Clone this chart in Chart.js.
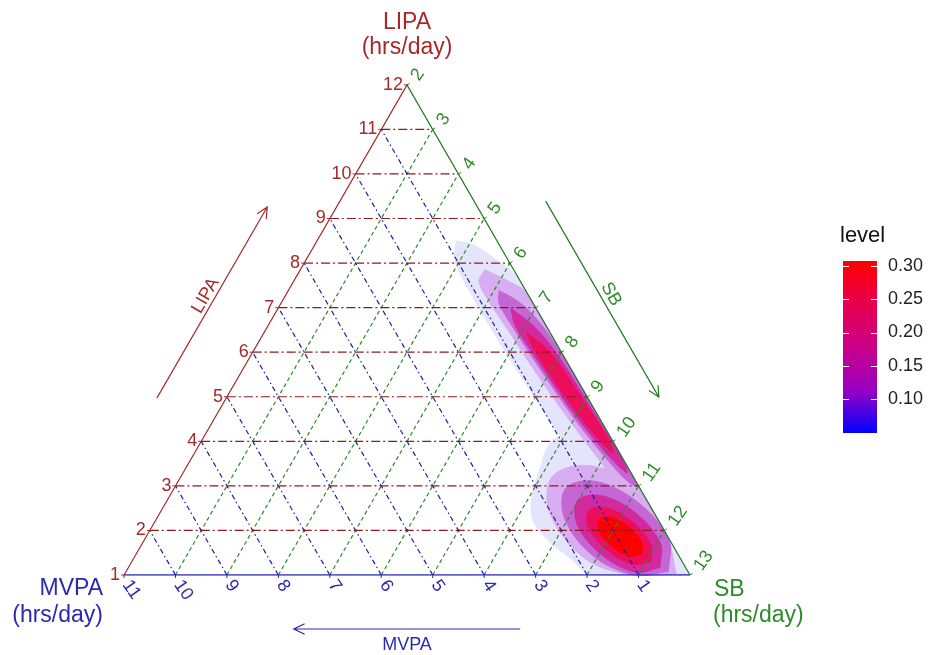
<!DOCTYPE html>
<html>
<head>
<meta charset="utf-8">
<script src="https://cdn.jsdelivr.net/npm/chart.js@4.4.1/dist/chart.umd.min.js"></script>
<style>
  html, body { margin: 0; padding: 0; background: #fff; }
  canvas { display: block; }
</style>
</head>
<body>
<canvas id="tern" width="931" height="655"></canvas>
<script>
// hours per day, LIPA + SB + MVPA = 14 everywhere in this window
var TOTAL = 14;
var lipaTicks = [1, 2, 3, 4, 5, 6, 7, 8, 9, 10, 11, 12];
var sbTicks = [2, 3, 4, 5, 6, 7, 8, 9, 10, 11, 12, 13];
var mvpaTicks = [1, 2, 3, 4, 5, 6, 7, 8, 9, 10, 11];
var lipaGrid = [2, 3, 4, 5, 6, 7, 8, 9, 10, 11];
var sbGrid = [3, 4, 5, 6, 7, 8, 9, 10, 11, 12];
var mvpaGrid = [1, 2, 3, 4, 5, 6, 7, 8, 9, 10];

// colour bar
var levelTicks = [0.10, 0.15, 0.20, 0.25, 0.30];
var levelRange = [0.049, 0.3075];
var bandColors = ['#E4E4FC', '#D8AEF0', '#C566D5', '#D22A9E', '#EC0E5A', '#FF0000'];

// density contours, vertices as [LIPA, MVPA] (SB is the remainder)
// lower cluster (high SB, low LIPA)
var lowBand1 = [[4.20, 0.45], [4.02, 1.16], [3.35, 1.75], [2.68, 2.24], [2.23, 2.44], [1.78, 2.37], [1.38, 2.14], [1.0, 1.90], [1.0, 0.0], [4.2, 0.0]];
var lowBand2 = [[1.02, 0.26], [1.0, 1.12], [1.36, 1.85], [2.39, 2.03], [3.22, 1.56], [3.45, 0.70], [2.93, 0.0], [1.90, 0.0]];
var lowBand3 = [[1.08, 0.38], [1.0, 1.06], [1.40, 1.65], [2.23, 1.81], [2.94, 1.45], [3.10, 0.78], [2.62, 0.19], [1.78, 0.02]];
var lowBand4 = [[1.17, 0.50], [1.06, 1.02], [1.45, 1.49], [2.11, 1.63], [2.67, 1.35], [2.78, 0.83], [2.39, 0.36], [1.72, 0.22]];
var lowBand5 = [[1.31, 0.60], [1.24, 0.98], [1.54, 1.32], [2.04, 1.44], [2.44, 1.25], [2.51, 0.88], [2.21, 0.53], [1.71, 0.42]];
var lowBand6 = [[1.47, 0.70], [1.42, 0.96], [1.63, 1.19], [1.97, 1.27], [2.25, 1.14], [2.29, 0.88], [2.08, 0.65], [1.73, 0.57]];
// upper cluster (along the SB edge)
var highBand1 = [[8.50, 0.78], [8.3, 0.92], [8.0, 1.06], [7.0, 1.10], [6.0, 1.08], [5.0, 1.03], [4.0, 0.95], [3.2, 0.92], [3.0, 0.5], [3.0, 0.0], [7.6, 0.0], [8.1, 0.25], [8.4, 0.50]];
var highBand2 = [[7.85, 0.56], [7.6, 0.80], [7.2, 0.84], [6.5, 0.79], [5.5, 0.72], [4.5, 0.61], [3.7, 0.49], [3.1, 0.38], [2.85, 0.15], [2.9, 0.0], [7.3, 0.0], [7.6, 0.24]];
var highBand3 = [[7.38, 0.52], [7.1, 0.66], [6.5, 0.66], [5.5, 0.59], [4.5, 0.49], [3.7, 0.34], [3.1, 0.16], [3.0, 0.02], [3.6, 0.0], [6.2, 0.03], [6.9, 0.15], [7.2, 0.32]];
var highBand4 = [[6.98, 0.49], [6.6, 0.60], [6.0, 0.57], [5.0, 0.49], [4.2, 0.37], [3.5, 0.19], [3.3, 0.07], [3.7, 0.02], [5.0, 0.06], [6.0, 0.11], [6.6, 0.25]];
var highBand5 = [[6.45, 0.46], [6.0, 0.50], [5.0, 0.42], [4.3, 0.31], [3.75, 0.14], [4.0, 0.06], [5.0, 0.12], [6.0, 0.22]];

var contours = [
  { band: 0, pts: lowBand1 }, { band: 0, pts: highBand1 },
  { band: 1, pts: lowBand2 }, { band: 1, pts: highBand2 },
  { band: 2, pts: lowBand3 }, { band: 2, pts: highBand3 },
  { band: 3, pts: lowBand4 }, { band: 3, pts: highBand4 },
  { band: 4, pts: lowBand5 }, { band: 4, pts: highBand5 },
  { band: 5, pts: lowBand6 }
];

var RED = '#A52A2A', GREEN = '#2F8A2A', BLUE = '#2A2AB0';
var FONT = '"Liberation Sans", Arial, sans-serif';

// ternary -> cartesian (side = 1)
function tern(lipa, mvpa) {
  var l = (lipa - 1) / 11;
  var s = (TOTAL - lipa - mvpa - 2) / 11;
  return { x: s + l / 2, y: l * Math.sqrt(3) / 2 };
}

var datasets = [];

contours.forEach(function (c) {
  var pts = c.pts.map(function (p) { return tern(p[0], p[1]); });
  pts.push(pts[0]);
  datasets.push({
    data: pts,
    showLine: true,
    fill: 'shape',
    backgroundColor: bandColors[c.band],
    borderColor: bandColors[c.band],
    borderWidth: 1,
    tension: 0.35,
    pointRadius: 0,
    order: 100 - c.band * 10
  });
});

function gridLine(a, b, color, dash) {
  datasets.push({
    data: [a, b],
    showLine: true,
    fill: false,
    borderColor: color,
    borderWidth: 1.2,
    borderDash: dash,
    pointRadius: 0,
    order: 2
  });
}

lipaGrid.forEach(function (L) { gridLine(tern(L, 12 - L), tern(L, 0), '#8E1B1B', [9, 3, 2, 3]); });
mvpaGrid.forEach(function (M) { gridLine(tern(1, M), tern(12 - M, M), '#1E1EA8', [5, 3, 1.5, 3]); });
sbGrid.forEach(function (S) { gridLine(tern(1, 13 - S), tern(14 - S, 0), '#2A8A2A', [4, 3]); });

// triangle edges
function edge(a, b, color) {
  datasets.push({ data: [a, b], showLine: true, fill: false, borderColor: color, borderWidth: 1.3, pointRadius: 0, order: 0 });
}
edge(tern(1, 11), tern(12, 0), RED);
edge(tern(12, 0), tern(1, 0), '#217A21');
edge(tern(1, 0), tern(1, 11), '#2B2BC0');

function px(chart, lipa, mvpa) {
  var p = tern(lipa, mvpa);
  return { x: chart.scales.x.getPixelForValue(p.x), y: chart.scales.y.getPixelForValue(p.y) };
}

var triangleClip = {
  id: 'triangleClip',
  beforeDatasetsDraw: function (chart) {
    var ctx = chart.ctx;
    var T = px(chart, 12, 0), A = px(chart, 1, 11), B = px(chart, 1, 0);
    ctx.save();
    ctx.beginPath();
    ctx.moveTo(T.x, T.y - 1.5);
    ctx.lineTo(B.x + 1.3, B.y + 0.8);
    ctx.lineTo(A.x - 1.3, A.y + 0.8);
    ctx.closePath();
    ctx.clip();
  },
  afterDatasetsDraw: function (chart) {
    chart.ctx.restore();
  }
};

function label(ctx, s, x, y, color, size, align, angle) {
  ctx.save();
  ctx.translate(x, y);
  ctx.rotate((angle || 0) * Math.PI / 180);
  ctx.fillStyle = color;
  ctx.font = size + 'px ' + FONT;
  ctx.textAlign = align || 'center';
  ctx.textBaseline = 'middle';
  ctx.fillText(s, 0, 0);
  ctx.restore();
}

function arrow(ctx, a, b, color) {
  var ang = Math.atan2(b.y - a.y, b.x - a.x);
  ctx.save();
  ctx.strokeStyle = color;
  ctx.lineWidth = 1.2;
  ctx.beginPath();
  ctx.moveTo(a.x, a.y);
  ctx.lineTo(b.x, b.y);
  ctx.moveTo(b.x - 12 * Math.cos(ang - 0.45), b.y - 12 * Math.sin(ang - 0.45));
  ctx.lineTo(b.x, b.y);
  ctx.lineTo(b.x - 12 * Math.cos(ang + 0.45), b.y - 12 * Math.sin(ang + 0.45));
  ctx.stroke();
  ctx.restore();
}

var ternaryDecor = {
  id: 'ternaryDecor',
  afterDraw: function (chart) {
    var ctx = chart.ctx;
    var T = px(chart, 12, 0), A = px(chart, 1, 11), B = px(chart, 1, 0);

    // tick marks + labels
    ctx.save();
    ctx.lineWidth = 1;
    lipaTicks.forEach(function (L) {
      var p = px(chart, L, 12 - L);
      ctx.strokeStyle = RED;
      ctx.beginPath(); ctx.moveTo(p.x - 3, p.y); ctx.lineTo(p.x, p.y); ctx.stroke();
      label(ctx, String(L), p.x - 4, p.y, RED, 18, 'right', 0);
    });
    sbTicks.forEach(function (S) {
      var p = px(chart, 14 - S, 0);
      ctx.strokeStyle = GREEN;
      ctx.beginPath(); ctx.moveTo(p.x, p.y); ctx.lineTo(p.x + 2.6, p.y - 1.5); ctx.stroke();
      label(ctx, String(S), p.x + 8, p.y - 6, GREEN, 18, 'left', -55);
    });
    mvpaTicks.forEach(function (M) {
      var p = px(chart, 1, M);
      ctx.strokeStyle = BLUE;
      ctx.beginPath(); ctx.moveTo(p.x, p.y); ctx.lineTo(p.x, p.y + 3); ctx.stroke();
      label(ctx, String(M), p.x + 2, p.y + 7, BLUE, 18, 'left', 55);
    });
    ctx.restore();

    // direction arrows, parallel to the edges
    function along(P, Q, t, off, nx, ny) {
      return { x: P.x + (Q.x - P.x) * t + off * nx, y: P.y + (Q.y - P.y) * t + off * ny };
    }
    var nl = { x: -0.8675, y: -0.4965 }, nr = { x: 0.8675, y: -0.4965 };
    arrow(ctx, along(A, T, 0.30, 60, nl.x, nl.y), along(A, T, 0.69, 60, nl.x, nl.y), RED);
    var lm = along(A, T, 0.5, 69, nl.x, nl.y);
    label(ctx, 'LIPA', lm.x, lm.y, RED, 18, 'center', -60);

    arrow(ctx, along(T, B, 0.30, 62, nr.x, nr.y), along(T, B, 0.70, 62, nr.x, nr.y), '#217A21');
    var sm = along(T, B, 0.5, 72, nr.x, nr.y);
    label(ctx, 'SB', sm.x, sm.y, GREEN, 18, 'center', 60);

    arrow(ctx, along(B, A, 0.30, 54, 0, 1), along(B, A, 0.70, 54, 0, 1), BLUE);
    var mm = along(B, A, 0.5, 70, 0, 1);
    label(ctx, 'MVPA', mm.x, mm.y, BLUE, 18, 'center', 0);

    // axis titles
    label(ctx, 'LIPA', T.x, 23, RED, 23, 'center', 0);
    label(ctx, '(hrs/day)', T.x, 48, RED, 23, 'center', 0);
    label(ctx, 'MVPA', A.x - 21, 589, BLUE, 23, 'right', 0);
    label(ctx, '(hrs/day)', A.x - 21, 616, BLUE, 23, 'right', 0);
    label(ctx, 'SB', B.x + 24, 590, GREEN, 23, 'left', 0);
    label(ctx, '(hrs/day)', B.x + 23, 616, GREEN, 23, 'left', 0);

    // colour bar legend
    var bx = 843, by = 261, bw = 34, bh = 172;
    function vy(v) { return by + bh - (v - levelRange[0]) / (levelRange[1] - levelRange[0]) * bh; }
    var g = ctx.createLinearGradient(0, by + bh, 0, by);
    g.addColorStop(0, '#0000FF');
    g.addColorStop(0.25, '#9A00C2');
    g.addColorStop(0.5, '#CA0088');
    g.addColorStop(0.75, '#E8004F');
    g.addColorStop(1, '#FF0000');
    ctx.fillStyle = g;
    ctx.fillRect(bx, by, bw, bh);
    ctx.strokeStyle = '#fff';
    ctx.lineWidth = 1;
    levelTicks.forEach(function (v) {
      var y = Math.round(vy(v)) + 0.5;
      ctx.beginPath();
      ctx.moveTo(bx, y); ctx.lineTo(bx + 6, y);
      ctx.moveTo(bx + bw - 6, y); ctx.lineTo(bx + bw, y);
      ctx.stroke();
      label(ctx, v.toFixed(2), 888, vy(v), '#222', 18, 'left', 0);
    });
    label(ctx, 'level', 840, 236, '#111', 22, 'left', 0);
  }
};

var X_MIN = -124 / 566, X_MAX = X_MIN + 931 / 566;
var Y_MAX = 575 / 566, Y_MIN = Y_MAX - 655 / 566;

new Chart(document.getElementById('tern'), {
  type: 'scatter',
  data: { datasets: datasets },
  options: {
    responsive: false,
    animation: false,
    devicePixelRatio: 1,
    events: [],
    layout: { padding: 0 },
    scales: {
      x: { type: 'linear', min: X_MIN, max: X_MAX, display: false },
      y: { type: 'linear', min: Y_MIN, max: Y_MAX, display: false }
    },
    plugins: { legend: { display: false }, tooltip: { enabled: false } }
  },
  plugins: [triangleClip, ternaryDecor]
});
</script>
</body>
</html>
